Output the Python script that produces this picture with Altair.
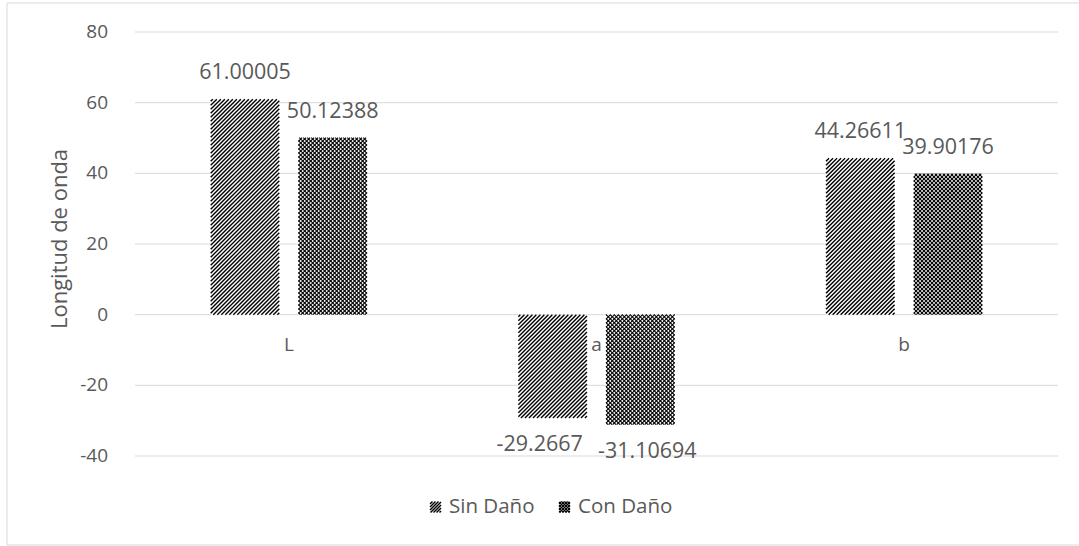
import altair as alt
import numpy as np
import pandas as pd

# ---- chart values ----
categories = ["L", "a", "b"]
series_names = ["Sin Daño", "Con Daño"]
sin_dano = [61.00005, -29.2667, 44.26611]
con_dano = [50.12388, -31.10694, 39.90176]
y_ticks = [-40, -20, 0, 20, 40, 60, 80]

# ---- layout ----
W, H = 923, 424
Y_MIN, Y_MAX = -40, 80
N = len(categories)
PX_X = W / N                         # pixels per category unit
PX_Y = H / (Y_MAX - Y_MIN)           # pixels per value unit
BAR_W = 0.223                        # bar width, in category units
BAR_OFF = {"Sin Daño": 0.246, "Con Daño": 0.531}
PITCH = 4.0                          # horizontal distance between pattern lines (px)
STROKE = {"Sin Daño": 1.4, "Con Daño": 1.1}
FONT = "Open Sans"
GREY = "#595959"
GRID = "#d9d9d9"
FS_AXIS, FS_LABEL, FS_TITLE, FS_LEGEND = 19, 21.5, 22, 20.5


def px_to_x(u):
    return u / PX_X


def px_to_y(v):
    return Y_MAX - v / PX_Y


def diag_lines(left, top, right, bottom, direction, pitch=PITCH):
    """Line segments of a 45-degree hatch filling a pixel rectangle.
    direction 'up' draws '/', 'down' draws '\\'."""
    w, h = right - left, bottom - top
    segs = []
    if direction == "up":
        for c in np.arange(-w + pitch / 2, h, pitch):
            ua, ub = max(0.0, -c), min(w, h - c)
            if ub <= ua:
                continue
            segs.append((left + ua, bottom - (ua + c), left + ub, bottom - (ub + c)))
    else:
        for c in np.arange(pitch / 2, w + h, pitch):
            ua, ub = max(0.0, c - h), min(w, c)
            if ub <= ua:
                continue
            segs.append((left + ua, bottom - (c - ua), left + ub, bottom - (c - ub)))
    return segs


PATTERNS = {"Sin Daño": ["up"], "Con Daño": ["up", "down"]}

# ---- bar table ----
rows = []
for i, cat in enumerate(categories):
    for name, vals in zip(series_names, [sin_dano, con_dano]):
        v = vals[i]
        x0 = i + BAR_OFF[name]
        rows.append({
            "categoria": cat, "serie": name, "valor": float(v), "cero": 0.0,
            "x0": x0, "x1": x0 + BAR_W, "xc": x0 + BAR_W / 2,
            "etiqueta": repr(v),
        })
bars = pd.DataFrame(rows)

# ---- pattern strokes derived from each bar ----
pat_rows = []
for r in bars.itertuples():
    left, right = r.x0 * PX_X, r.x1 * PX_X
    top = (Y_MAX - max(r.valor, 0)) * PX_Y
    bottom = (Y_MAX - min(r.valor, 0)) * PX_Y
    for d in PATTERNS[r.serie]:
        for (xa, ya, xb, yb) in diag_lines(left, top, right, bottom, d):
            pat_rows.append({"serie": r.serie, "xa": px_to_x(xa), "ya": px_to_y(ya),
                             "xb": px_to_x(xb), "yb": px_to_y(yb)})

# ---- legend (below the plot, centred) ----
LEG_Y = 475.0            # px from plot top, centre of legend row
SYM = 11.0               # symbol size (px)
leg_items = [("Sin Daño", 295.0), ("Con Daño", 424.0)]   # symbol left edge, px from plot left
leg_text = []
leg_box = []
for name, sx in leg_items:
    leg_text.append({"serie": name, "x": px_to_x(sx + SYM + 8), "y": px_to_y(LEG_Y)})
    l, t, rr, b = sx, LEG_Y - SYM / 2, sx + SYM, LEG_Y + SYM / 2
    leg_box.append({"x0": px_to_x(l), "x1": px_to_x(rr),
                    "y0": px_to_y(b), "y1": px_to_y(t)})
    for d in PATTERNS[name]:
        for (xa, ya, xb, yb) in diag_lines(l, t, rr, b, d, pitch=3.0):
            pat_rows.append({"serie": name, "xa": px_to_x(xa), "ya": px_to_y(ya),
                             "xb": px_to_x(xb), "yb": px_to_y(yb)})
strokes = pd.DataFrame(pat_rows)
leg_text = pd.DataFrame(leg_text)
leg_box = pd.DataFrame(leg_box)

# outer chart border (px relative to the plot's top-left corner)
frame_df = pd.DataFrame([{"x0": px_to_x(-128), "x1": px_to_x(1000),
                          "y0": px_to_y(513), "y1": px_to_y(-29)}])

# value axis: gridlines, tick labels and title
grid_df = pd.DataFrame({"v": [float(t) for t in y_ticks], "lbl": [str(t) for t in y_ticks],
                        "x0": [0.0] * len(y_ticks), "x1": [float(N)] * len(y_ticks)})
title_df = pd.DataFrame([{"x": px_to_x(-68), "y": px_to_y(207), "t": "Longitud de onda"}])

cats = pd.DataFrame({"categoria": categories,
                     "xc": [i + 0.5 for i in range(N)],
                     "cero": [0.0] * N})

xs = alt.Scale(domain=[0, N], nice=False, zero=False)
ys = alt.Scale(domain=[Y_MIN, Y_MAX], nice=False, zero=False)


def X(f):
    return alt.X(f, type="quantitative", scale=xs, axis=None)


def Y(f):
    return alt.Y(f, type="quantitative", scale=ys, axis=None)


gridlines = alt.Chart(grid_df).mark_rule(color=GRID, strokeWidth=1).encode(
    x=X("x0"), x2=alt.X2("x1"), y=Y("v"))

tick_labels = alt.Chart(grid_df).mark_text(
    font=FONT, fontSize=FS_AXIS, color=GREY, align="right", baseline="middle", dx=-27
).encode(x=X("x0"), y=Y("v"), text=alt.Text("lbl", type="nominal"))

y_title = alt.Chart(title_df).mark_text(
    font=FONT, fontSize=FS_TITLE, color=GREY, align="center", baseline="alphabetic", angle=270
).encode(x=X("x"), y=Y("y"), text=alt.Text("t", type="nominal"))

base_bars = alt.Chart(bars).mark_rect(fill="white", strokeWidth=0).encode(
    x=X("x0"), x2=alt.X2("x1"), y=Y("valor"), y2=alt.Y2("cero"))


def pattern_layer(name):
    return alt.Chart(strokes).transform_filter(
        alt.datum.serie == name
    ).mark_rule(color="black", strokeWidth=STROKE[name]).encode(
        x=X("xa"), x2=alt.X2("xb"), y=Y("ya"), y2=alt.Y2("yb"))


lab_common = dict(font=FONT, fontSize=FS_LABEL, color=GREY, align="center")
lab_enc = dict(x=X("xc"), y=Y("valor"), text=alt.Text("etiqueta", type="nominal"))

pos_labels = alt.Chart(bars).transform_filter("datum.valor >= 0").mark_text(
    baseline="bottom", dy=-15, **lab_common).encode(**lab_enc)

neg_sin = alt.Chart(bars).transform_filter(
    "datum.valor < 0 && datum.serie == 'Sin Daño'"
).mark_text(baseline="top", dy=16, dx=-13, **lab_common).encode(**lab_enc)

neg_con = alt.Chart(bars).transform_filter(
    "datum.valor < 0 && datum.serie == 'Con Daño'"
).mark_text(baseline="top", dy=16, dx=7, **lab_common).encode(**lab_enc)

cat_labels = alt.Chart(cats).mark_text(
    font=FONT, fontSize=FS_AXIS, color=GREY, baseline="middle", dy=30
).encode(x=X("xc"), y=Y("cero"), text=alt.Text("categoria", type="nominal"))

legend_bg = alt.Chart(leg_box).mark_rect(fill="white").encode(
    x=X("x0"), x2=alt.X2("x1"), y=Y("y0"), y2=alt.Y2("y1"))

legend_txt = alt.Chart(leg_text).mark_text(
    font=FONT, fontSize=FS_LEGEND, color=GREY, align="left", baseline="middle"
).encode(x=X("x"), y=Y("y"), text=alt.Text("serie", type="nominal"))

frame = alt.Chart(frame_df).mark_rect(fillOpacity=0, stroke=GRID, strokeWidth=1).encode(
    x=X("x0"), x2=alt.X2("x1"), y=Y("y0"), y2=alt.Y2("y1"))

chart = alt.layer(
    gridlines, tick_labels, y_title, base_bars, legend_bg,
    pattern_layer("Sin Daño"), pattern_layer("Con Daño"),
    pos_labels, neg_sin, neg_con, cat_labels, legend_txt, frame
).properties(
    width=W, height=H,
    autosize=alt.AutoSizeParams(type="none"),
    padding={"left": 135, "top": 32, "right": 21, "bottom": 90},
    background="white",
).configure_view(strokeWidth=0)

chart.save("out.html", embed_options={"renderer": "svg", "actions": False})
